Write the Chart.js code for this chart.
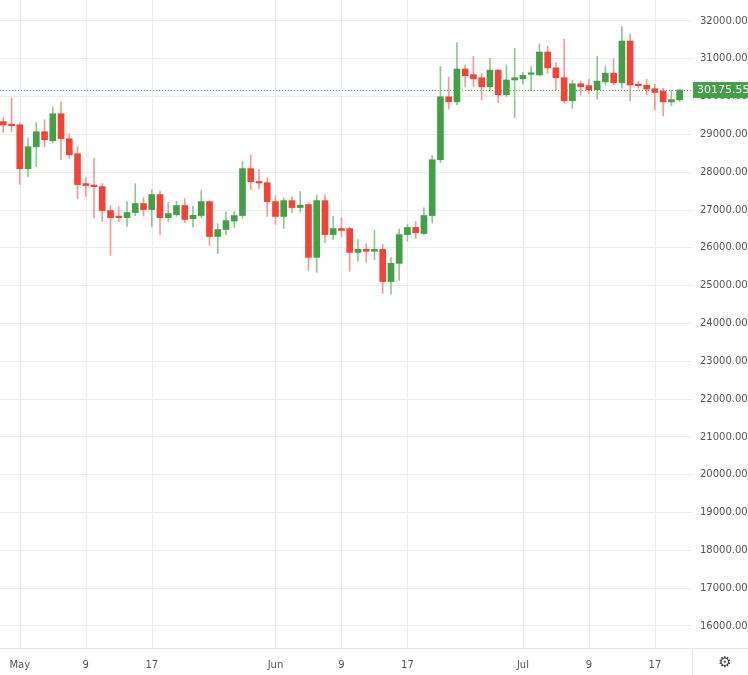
<!DOCTYPE html>
<html><head><meta charset="utf-8">
<script src="https://cdn.jsdelivr.net/npm/chart.js@4"></script>
<style>html,body{margin:0;padding:0;background:#fff}#w{width:748px;height:675px}</style>
</head><body><div id="w"><canvas id="c"></canvas></div>
<script>
const openP=[29340,29250,29256,28095,28675,29071,28834,29546,28887,28490,27700,27647,27620,26987,26840,26800,26934,27172,27013,27409,26800,26880,27120,26770,26855,27224,26300,26485,26710,26855,28095,27750,27725,27224,26830,27250,27066,27145,25750,27250,26350,26510,26510,25880,25960,25910,25960,25110,25590,26350,26540,26380,26855,28330,29995,29863,30730,30580,30500,30260,30700,30050,30440,30470,30590,30575,31180,30760,30500,29890,30340,30290,30180,30390,30620,30365,31470,30320,30300,30210,30150,29860,29915];
const highP=[29450,29968,29310,28913,29310,29390,29730,29863,29020,28675,27857,28359,27700,27120,27090,27224,27700,27330,27540,27500,27200,27230,27300,27100,27515,27240,26640,26950,26960,28280,28464,28070,27850,27380,27320,27350,27490,27190,27400,27400,26840,26790,26550,26220,26115,26460,26090,25740,26500,26620,26700,27060,28440,30794,30512,31428,30838,31058,30618,31014,30724,30838,31278,30644,30794,31392,31340,30900,31524,30442,30416,30460,31058,30812,30996,31850,31656,30398,30460,30328,30222,30178,30196];
const lowP=[29050,29080,27673,27884,28148,28675,28780,28333,28360,27300,27356,26800,26700,25800,26690,26565,26850,26840,26560,26350,26700,26830,26670,26550,26800,26063,25850,26340,26540,26780,27540,27560,26830,26620,26510,26930,26940,25400,25350,26140,26220,26290,25380,25650,25620,25690,24800,24770,25140,26180,26250,26350,26660,28250,29668,29782,30266,30266,29914,30178,29844,30002,29448,30328,30160,30548,30618,30178,29826,29694,30046,30072,29932,30310,30310,30222,29888,30222,30046,29650,29490,29756,29870];
const closeP=[29250,29230,28095,28675,29071,28860,29546,28887,28464,27673,27647,27620,26987,26800,26800,26934,27172,27013,27409,26800,26908,27120,26750,26860,27224,26300,26485,26720,26855,28095,27750,27715,27224,26830,27250,27066,27130,25750,27250,26350,26510,26460,25880,25960,25910,25960,25110,25590,26350,26540,26400,26855,28330,29995,29863,30730,30550,30470,30260,30700,30050,30440,30500,30560,30620,31180,30760,30500,29890,30340,30260,30180,30410,30620,30370,31470,30310,30290,30200,30110,29860,29920,30175.55];
const tickIdx=[2,10,18,33,41,49,63,71,79];
const tickLbl=['May','9','17','Jun','9','17','Jul','9','17'];
const yTicks=[16000,17000,18000,19000,20000,21000,22000,23000,24000,25000,26000,27000,28000,29000,30000,31000,32000];
const lastPrice=30175.55;
const UP='#43a047',DN='#f44336',UPW='#8cc98e',DNW='#f59a94';
const up=i=>closeP[i]>=openP[i];
const bodies=openP.map((o,i)=>({x:i,y:[o,closeP[i]]}));
const wicks=openP.map((o,i)=>({x:i,y:[lowP[i],highP[i]]}));
const gridPlugin={id:'vg',beforeDatasetsDraw(ch){
 const {ctx,chartArea:a,scales:{x}}=ch;ctx.save();ctx.strokeStyle='#ececec';ctx.lineWidth=1;
 tickIdx.forEach(v=>{const px=Math.round(x.getPixelForValue(v))+0.5;ctx.beginPath();ctx.moveTo(px,a.top);ctx.lineTo(px,a.bottom);ctx.stroke();});
 ctx.restore();}};
const lastPlugin={id:'last',afterDatasetsDraw(ch){
 const {ctx,chartArea:a,scales:{y}}=ch;
 ctx.save();ctx.fillStyle='#555';ctx.font='10px "DejaVu Sans"';ctx.textBaseline='middle';
 yTicks.forEach(v=>ctx.fillText(v.toFixed(2),a.right+8,y.getPixelForValue(v)));
 const py=y.getPixelForValue(lastPrice);
 ctx.strokeStyle='#4caf50';ctx.setLineDash([1,2]);ctx.lineWidth=1;
 ctx.beginPath();ctx.moveTo(a.left,py+0.5);ctx.lineTo(a.right,py+0.5);ctx.stroke();ctx.setLineDash([]);
 ctx.fillStyle='#43a047';ctx.fillRect(a.right+1,py-8,56,16);
 ctx.fillStyle='#fff';ctx.font='11px "DejaVu Sans"';ctx.fillText(lastPrice.toFixed(2),a.right+5,py);
 ctx.strokeStyle='#e6e6e6';ctx.beginPath();ctx.moveTo(0,a.bottom+0.5);ctx.lineTo(748,a.bottom+0.5);ctx.stroke();
 ctx.beginPath();ctx.moveTo(a.right+0.5,a.bottom);ctx.lineTo(a.right+0.5,675);ctx.stroke();
 ctx.fillStyle='#444';ctx.font='15px "DejaVu Sans"';ctx.textAlign='center';ctx.fillText('\u2699',725,663);
 ctx.restore();}};
new Chart(document.getElementById('c'),{type:'bar',
 data:{datasets:[
  {data:wicks,backgroundColor:wicks.map((d,i)=>up(i)?UPW:DNW),barThickness:1,grouped:false,order:2},
  {data:bodies,backgroundColor:bodies.map((d,i)=>up(i)?UP:DN),barThickness:6,minBarLength:1.5,grouped:false,order:1}]},
 options:{responsive:true,maintainAspectRatio:false,animation:false,
  layout:{padding:0},
  plugins:{legend:{display:false},tooltip:{enabled:false}},
  scales:{
   x:{type:'linear',min:-0.4,max:83.5,offset:false,
    afterBuildTicks:s=>{s.ticks=tickIdx.map(v=>({value:v}));},
    ticks:{autoSkip:false,maxRotation:0,color:'#555',font:{family:'DejaVu Sans',size:10},padding:3,
     callback:(v)=>{const k=tickIdx.indexOf(v);return k>=0?tickLbl[k]:'';}},
    grid:{display:false},border:{display:false},afterFit:s=>{s.height=27;}},
   y:{position:'right',min:15418,max:32555,
    afterBuildTicks:s=>{s.ticks=yTicks.map(v=>({value:v}));},
    ticks:{display:false},
    grid:{color:'#ececec',drawTicks:false},border:{display:false},afterFit:s=>{s.width=56;}}
  }},plugins:[gridPlugin,lastPlugin]});
</script></body></html>
